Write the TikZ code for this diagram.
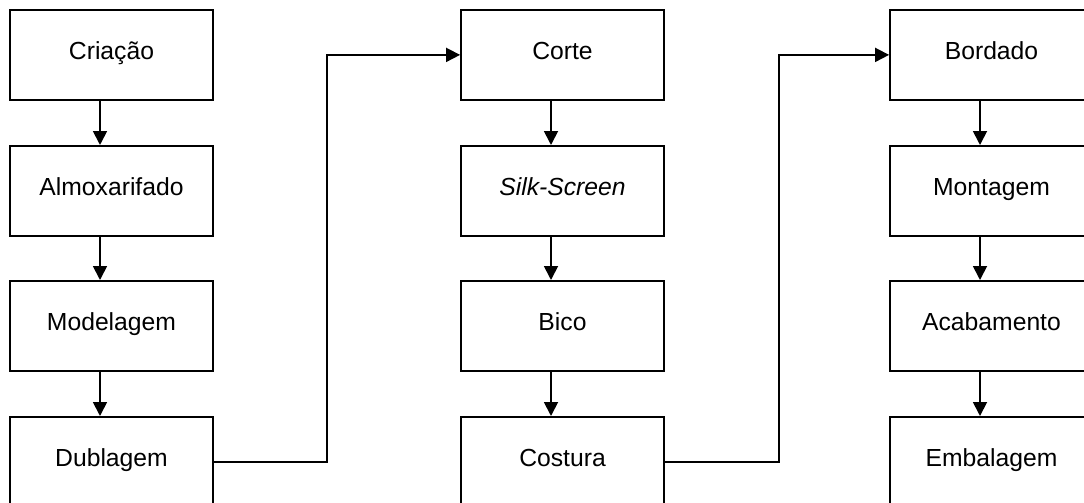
\documentclass[tikz,border=0pt]{standalone}
\usepackage{fontspec}
\setmainfont{Liberation Sans}
\usetikzlibrary{arrows.meta}
\begin{document}
\begin{tikzpicture}[x=1pt,y=-1pt,
  stage/.style={draw=black,line width=1.8pt,inner sep=0pt,minimum width=203pt,
    text height=50pt,text depth=40pt,align=center,
    font=\fontsize{24.7pt}{30pt}\selectfont},
  flow/.style={line width=1.8pt,-{Triangle[length=14pt,width=14pt]}},
  link/.style={line width=1.8pt,-{Triangle[length=14pt,width=14pt]}}]
\useasboundingbox (0,0) rectangle (1084,503);
\clip (0,0) rectangle (1084,503);
% column 1
\node[stage,anchor=north] (cri) at (111.5,9)   {Criação};
\node[stage,anchor=north] (alm) at (111.5,145) {Almoxarifado};
\node[stage,anchor=north] (mod) at (111.5,280) {Modelagem};
\node[stage,anchor=north] (dub) at (111.5,416) {Dublagem};
% column 2
\node[stage,anchor=north] (cor) at (562.5,9)   {Corte};
\node[stage,anchor=north] (sil) at (562.5,145) {\itshape Silk-Screen};
\node[stage,anchor=north] (bic) at (562.5,280) {Bico};
\node[stage,anchor=north] (cos) at (562.5,416) {Costura};
% column 3
\node[stage,anchor=north] (bor) at (991.5,9)   {Bordado};
\node[stage,anchor=north] (mon) at (991.5,145) {Montagem};
\node[stage,anchor=north] (aca) at (991.5,280) {Acabamento};
\node[stage,anchor=north] (emb) at (991.5,416) {Embalagem};
% vertical arrows
\foreach \a/\b in {cri/alm,alm/mod,mod/dub,cor/sil,sil/bic,bic/cos,bor/mon,mon/aca,aca/emb}
  \draw[flow] ([xshift=-11.5pt]\a.south) -- ([xshift=-11.5pt]\b.north);
% connectors between columns
\draw[link] (dub.east) -- ++(113,0) |- (cor.west);
\draw[link] (cos.east) -- ++(114,0) |- (bor.west);
\end{tikzpicture}
\end{document}
